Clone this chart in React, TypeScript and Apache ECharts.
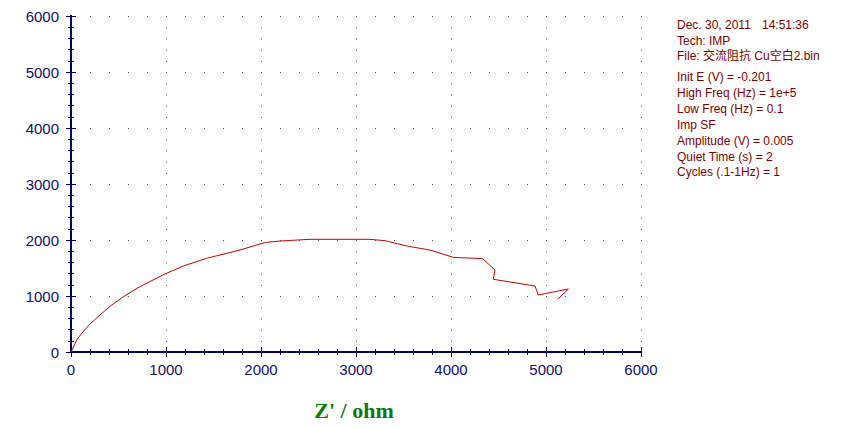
import React, { useEffect, useRef } from "react";
import * as echarts from "echarts";

const zReal = [0, 60, 112, 200, 305, 428, 568, 726, 989, 1182, 1428, 1779, 1989, 2060, 2200, 2516, 2832, 3147, 3305, 3533, 3779, 4025, 4333, 4463, 4446, 4884, 4919, 5235, 5130];
const zImag = [0, 214, 333, 500, 661, 839, 1006, 1167, 1393, 1536, 1673, 1821, 1929, 1958, 1982, 2012, 2012, 2012, 1988, 1893, 1821, 1690, 1667, 1464, 1298, 1179, 1018, 1125, 952];

const infoBlock1 = ["Dec. 30, 2011", "Tech: IMP", "File: 交流阻抗 Cu空白2.bin"];
const infoTime = "14:51:36";
const infoBlock2 = [
  "Init E (V) = -0.201",
  "High Freq (Hz) = 1e+5",
  "Low Freq (Hz) = 0.1",
  "Imp SF",
  "Amplitude (V) = 0.005",
  "Quiet Time (s) = 2",
  "Cycles (.1-1Hz) = 1",
];
const xTitle = "Z' / ohm";

const AXIS_MIN = 0;
const AXIS_MAX = 6000;
const AXIS_STEP = 1000;

export default function App() {
  const ref = useRef<HTMLDivElement>(null);
  useEffect(() => {
    if (!ref.current) return;
    const chart = echarts.init(ref.current, null, { renderer: "svg" });
    const navy = "#00005a";
    const labelColor = "#10106a";
    const dotColor = "#5a5a3a";
    const infoColor = "#800000";
    const infoFont = "'Liberation Sans', Arial, 'Noto Sans CJK SC', sans-serif";

    const baseAxis = (extra: any) => ({
      type: "value",
      min: AXIS_MIN,
      max: AXIS_MAX,
      interval: AXIS_STEP,
      axisLine: { show: true, lineStyle: { color: navy, width: 2 } },
      splitLine: { show: false },
      axisLabel: { show: false },
      axisTick: { show: false },
      minorTick: { show: false },
      ...extra,
    });

    const data = zReal.map((x, i) => [x, zImag[i]]);

    const graphics: any[] = [];
    infoBlock1.forEach((t, i) => {
      graphics.push({
        type: "text",
        x: 677,
        y: 25 + i * 15.7,
        style: { text: t, fill: infoColor, font: `12px ${infoFont}`, textVerticalAlign: "middle" },
      });
    });
    graphics.push({
      type: "text",
      x: 762,
      y: 25,
      style: { text: infoTime, fill: infoColor, font: `12px ${infoFont}`, textVerticalAlign: "middle" },
    });
    infoBlock2.forEach((t, i) => {
      graphics.push({
        type: "text",
        x: 677,
        y: 77 + i * 15.9,
        style: { text: t, fill: infoColor, font: `12px ${infoFont}`, textVerticalAlign: "middle" },
      });
    });
    graphics.push({
      type: "text",
      x: 354,
      y: 410,
      style: {
        text: xTitle,
        fill: "#0a7a0a",
        font: "bold 22px 'Liberation Serif', 'Times New Roman', serif",
        textAlign: "center",
        textVerticalAlign: "middle",
      },
    });

    const labelStyle = {
      show: true,
      color: labelColor,
      fontSize: 15,
      fontFamily: "'Liberation Sans', Arial, sans-serif",
      formatter: (v: number) => String(v),
    };

    chart.setOption({
      animation: false,
      backgroundColor: "#ffffff",
      grid: { left: 71, right: 211, top: 16, bottom: 76, containLabel: false },
      xAxis: [
        baseAxis({
          position: "bottom",
          axisTick: { show: true, inside: false, length: 3, lineStyle: { color: navy } },
          axisLabel: { ...labelStyle, margin: 10 },
          splitLine: {
            show: true,
            lineStyle: { color: dotColor, width: 1, type: [1, 10.2] },
          },
        }),
        baseAxis({
          position: "bottom",
          axisTick: { show: true, inside: true, length: 5, lineStyle: { color: navy } },
          minorTick: { show: true, splitNumber: 5, length: 3, lineStyle: { color: navy } },
        }),
        baseAxis({
          position: "top",
          axisTick: { show: true, inside: true, length: 5, lineStyle: { color: navy } },
          minorTick: { show: true, splitNumber: 5, length: 3, lineStyle: { color: navy } },
        }),
      ],
      yAxis: [
        baseAxis({
          position: "left",
          axisTick: { show: true, inside: false, length: 3, lineStyle: { color: navy } },
          axisLabel: { ...labelStyle, margin: 12 },
          splitLine: {
            show: true,
            lineStyle: { color: dotColor, width: 1, type: [1, 18] },
          },
        }),
        baseAxis({
          position: "left",
          axisTick: { show: true, inside: true, length: 5, lineStyle: { color: navy } },
          minorTick: { show: true, splitNumber: 5, length: 3, lineStyle: { color: navy } },
        }),
        baseAxis({
          position: "right",
          axisTick: { show: true, inside: true, length: 5, lineStyle: { color: navy } },
          minorTick: { show: true, splitNumber: 5, length: 3, lineStyle: { color: navy } },
        }),
      ],
      series: [
        {
          type: "line",
          xAxisIndex: 0,
          yAxisIndex: 0,
          data,
          showSymbol: false,
          symbol: "none",
          lineStyle: { color: "#c80000", width: 1 },
          z: 5,
        },
      ],
      graphic: graphics,
    });
    return () => chart.dispose();
  }, []);
  return (
    <div
      ref={ref}
      style={{ position: "fixed", left: 0, top: 0, width: 852, height: 428 }}
    />
  );
}
